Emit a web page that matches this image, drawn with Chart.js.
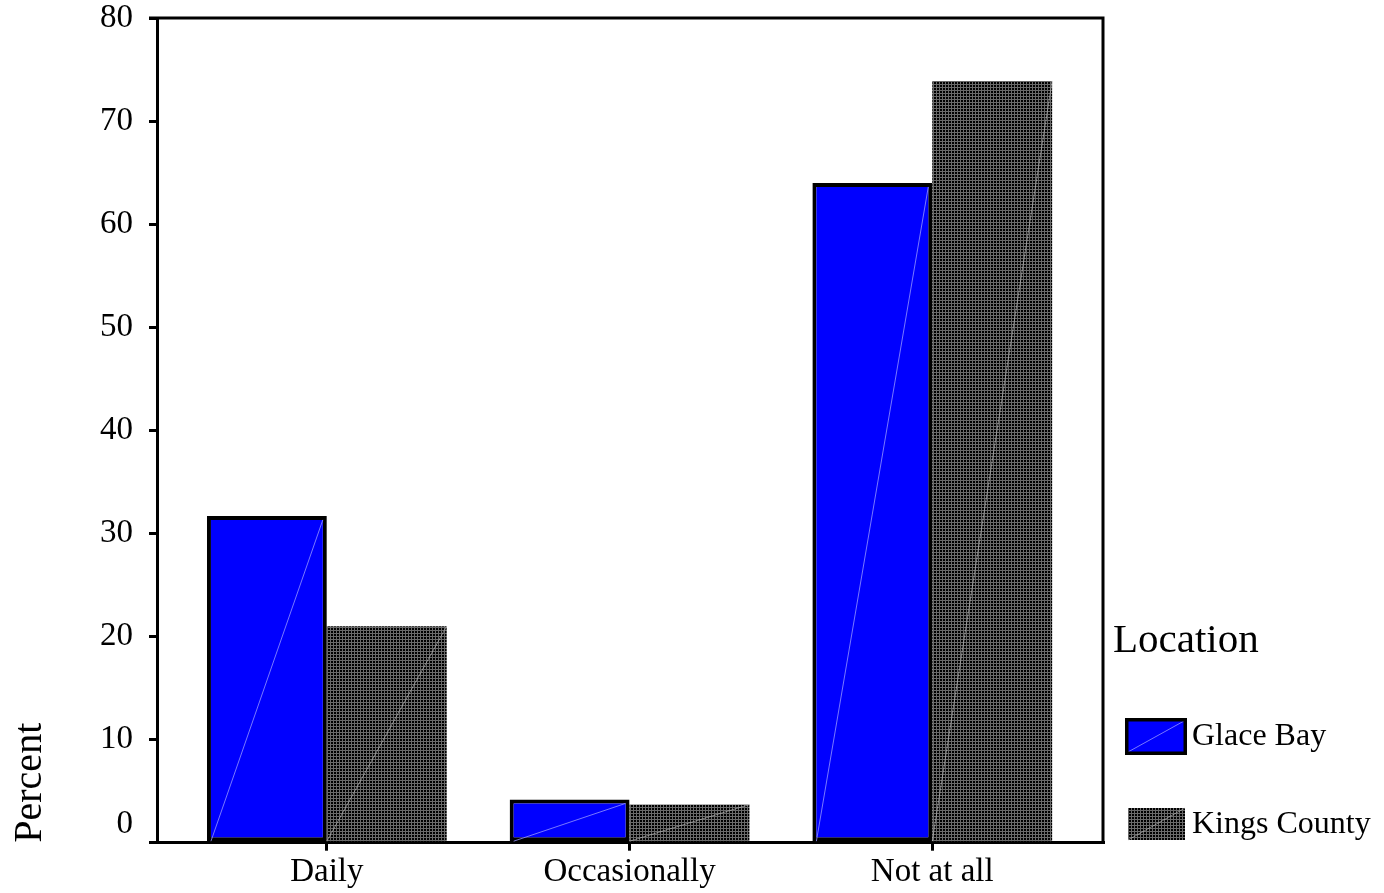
<!DOCTYPE html>
<html>
<head>
<meta charset="utf-8">
<script src="https://cdn.jsdelivr.net/npm/chart.js@4.4.1/dist/chart.umd.min.js"></script>
<style>
  html, body { margin: 0; padding: 0; background: #fff; }
  #wrap { width: 1384px; height: 893px; }
</style>
</head>
<body>
<div id="wrap"><canvas id="chart" width="1384" height="893"></canvas></div>
<script>
// ---------------------------------------------------------------------------
// Data
// ---------------------------------------------------------------------------
const categories = ["Daily", "Occasionally", "Not at all"];
const glaceBay = [31.7, 4.2, 64.0];
const kingsCounty = [21.0, 3.7, 73.9];
const seriesNames = ["Glace Bay", "Kings County"];
const yTicks = [0, 10, 20, 30, 40, 50, 60, 70, 80];
const legendTitle = "Location";
const yTitle = "Percent";

const FONT = "'Liberation Serif', 'Times New Roman', serif";

// Black fill with a fine light grid, like the SPSS hatch on Kings County.
function makeGridPattern() {
  const c = document.createElement("canvas");
  c.width = 3;
  c.height = 3;
  const g = c.getContext("2d");
  g.fillStyle = "#000";
  g.fillRect(0, 0, 3, 3);
  g.fillStyle = "#6a6a6a";
  g.fillRect(0, 0, 3, 1);
  g.fillRect(0, 0, 1, 3);
  return g.createPattern(c, "repeat");
}
const gridPattern = makeGridPattern();

// Categories sit on a linear x axis (1, 2, 3) so the plot box can be wider
// than the category band, as in the original.
function toPoints(values) {
  return values.map((v, i) => ({ x: i + 1, y: v }));
}

// --- faint diagonal streak across each bar (export artefact in the original)
const barStreaks = {
  id: "barStreaks",
  afterDatasetsDraw(chart) {
    const ctx = chart.ctx;
    ctx.save();
    ctx.lineWidth = 1;
    chart.data.datasets.forEach((ds, di) => {
      const meta = chart.getDatasetMeta(di);
      meta.data.forEach((bar) => {
        const inset = di === 0 ? 4 : 0;
        const left = bar.x - bar.width / 2 + inset;
        const right = bar.x + bar.width / 2 - inset;
        ctx.strokeStyle = di === 0 ? "rgba(150,150,255,0.8)" : "rgba(190,190,190,0.6)";
        ctx.beginPath();
        ctx.moveTo(left, bar.base);
        ctx.lineTo(right, bar.y + inset);
        ctx.stroke();
      });
    });
    ctx.restore();
  },
};

// --- top and right edges of the plot frame ---------------------------------
const plotFrame = {
  id: "plotFrame",
  afterDraw(chart) {
    const { left, right, top, bottom } = chart.chartArea;
    const ctx = chart.ctx;
    ctx.save();
    ctx.strokeStyle = "#000";
    ctx.lineWidth = 3;
    ctx.beginPath();
    ctx.moveTo(left - 8, top);
    ctx.lineTo(right, top);
    ctx.lineTo(right, bottom);
    ctx.stroke();
    ctx.restore();
  },
};

// --- legend drawn by hand in the right margin ------------------------------
const sideLegend = {
  id: "sideLegend",
  afterDraw(chart) {
    const ctx = chart.ctx;
    const x0 = chart.chartArea.right + 10;
    ctx.save();
    ctx.fillStyle = "#000";
    ctx.textBaseline = "middle";
    ctx.textAlign = "left";
    ctx.font = "41px " + FONT;
    ctx.fillText(legendTitle, x0, 641);

    // Glace Bay swatch
    const ds0 = chart.data.datasets[0];
    ctx.fillStyle = ds0.backgroundColor;
    ctx.fillRect(1125, 718, 62, 37);
    ctx.strokeStyle = "rgba(150,150,255,0.8)";
    ctx.lineWidth = 1;
    ctx.beginPath();
    ctx.moveTo(1128, 752);
    ctx.lineTo(1184, 721);
    ctx.stroke();
    ctx.strokeStyle = "#000";
    ctx.lineWidth = 3.5;
    ctx.strokeRect(1126.75, 719.75, 58.5, 33.5);

    // Kings County swatch
    const ds1 = chart.data.datasets[1];
    ctx.fillStyle = ds1.backgroundColor;
    ctx.fillRect(1128, 808, 57, 32);
    ctx.strokeStyle = "rgba(190,190,190,0.6)";
    ctx.lineWidth = 1;
    ctx.beginPath();
    ctx.moveTo(1128, 840);
    ctx.lineTo(1185, 808);
    ctx.stroke();

    ctx.fillStyle = "#000";
    ctx.font = "32px " + FONT;
    ctx.fillText(seriesNames[0], 1192, 737);
    ctx.fillText(seriesNames[1], 1192, 825);
    ctx.restore();
  },
};

new Chart(document.getElementById("chart"), {
  type: "bar",
  data: {
    datasets: [
      {
        label: seriesNames[0],
        data: toPoints(glaceBay),
        backgroundColor: "#0000ff",
        borderColor: "#000",
        borderWidth: 4,
        borderSkipped: false,
        barPercentage: 1,
        categoryPercentage: 0.792,
      },
      {
        label: seriesNames[1],
        data: toPoints(kingsCounty),
        backgroundColor: gridPattern,
        borderWidth: 0,
        barPercentage: 1,
        categoryPercentage: 0.792,
      },
    ],
  },
  options: {
    responsive: false,
    animation: false,
    layout: { padding: { left: 0, right: 281, top: 0, bottom: 0 } },
    plugins: {
      legend: { display: false },
      tooltip: { enabled: false },
    },
    scales: {
      x: {
        type: "linear",
        offset: false,
        min: 0.439,
        max: 3.564,
        afterBuildTicks: (scale) => {
          scale.ticks = categories.map((c, i) => ({ value: i + 1 }));
        },
        afterFit: (scale) => {
          scale.paddingLeft = 0;
          scale.paddingRight = 0;
        },
        ticks: {
          callback: (v) => categories[v - 1] || "",
          color: "#000",
          font: { family: FONT, size: 33, lineHeight: 1.1 },
          padding: 3,
          maxRotation: 0,
          autoSkip: false,
        },
        grid: {
          display: true,
          offset: false,
          drawOnChartArea: false,
          drawTicks: true,
          tickLength: 8,
          color: "#000",
          lineWidth: 3,
        },
        border: { display: true, color: "#000", width: 3 },
      },
      y: {
        min: 0,
        max: 80,
        afterBuildTicks: (scale) => {
          scale.ticks = yTicks.map((v) => ({ value: v }));
        },
        afterFit: (scale) => {
          scale.paddingTop = 18;
          scale.paddingBottom = 0;
        },
        ticks: {
          // the zero label sits a little above its tick in the original
          callback: (v) => (v === 0 ? ["0", ""] : String(v)),
          color: "#000",
          font: { family: FONT, size: 33, lineHeight: 1.1 },
          padding: 16,
        },
        grid: {
          display: true,
          drawOnChartArea: false,
          drawTicks: true,
          tickLength: 8,
          color: "#000",
          lineWidth: 3,
        },
        border: { display: true, color: "#000", width: 3 },
        title: {
          display: true,
          text: yTitle,
          align: "start",
          color: "#000",
          font: { family: FONT, size: 40, lineHeight: 1.2 },
          padding: { top: 6, bottom: 30 },
        },
      },
    },
  },
  plugins: [barStreaks, plotFrame, sideLegend],
});
</script>
</body>
</html>
